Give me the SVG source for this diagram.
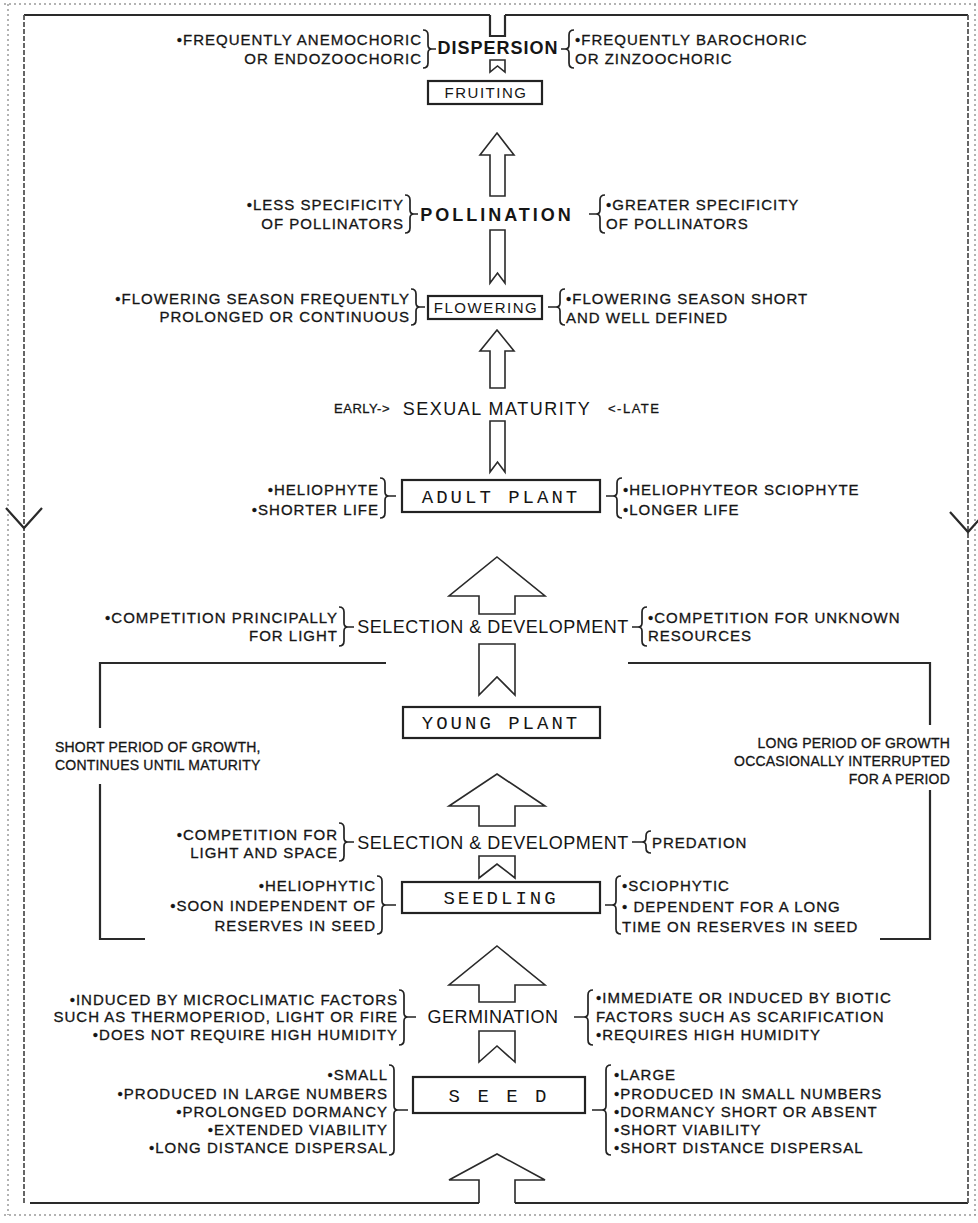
<svg xmlns="http://www.w3.org/2000/svg" width="978" height="1223" viewBox="0 0 978 1223">
<style>
.bg{fill:#ffffff}
.frame{fill:none;stroke:#9a9a9a;stroke-width:1.5;stroke-dasharray:2 3}
.loop{fill:none;stroke:#2a2a2a;stroke-width:2.2}
.side{fill:none;stroke:#555;stroke-width:1.8;stroke-dasharray:5 2}
.arr{fill:#ffffff;stroke:#2a2a2a;stroke-width:1.6;stroke-linejoin:miter}
.br{fill:none;stroke:#222;stroke-width:1.7}
.box{fill:#ffffff;stroke:#222;stroke-width:2.2}
.t{font-family:"Liberation Sans",Arial,sans-serif;font-size:15px;letter-spacing:1px;fill:#151515;stroke:#151515;stroke-width:0.3}
.g{font-size:14px;letter-spacing:0.2px}
.te{text-anchor:end}
.lb{font-family:"Liberation Sans",Arial,sans-serif;font-size:18px;letter-spacing:0.5px;fill:#151515;text-anchor:middle}
.bold{font-weight:bold}
.sm{font-family:"Liberation Sans",Arial,sans-serif;font-size:13px;letter-spacing:0.5px;fill:#151515;stroke:#151515;stroke-width:0.3}
.ns{font-family:"Liberation Sans",Arial,sans-serif;font-size:15px;letter-spacing:1.5px;fill:#151515;text-anchor:middle}
.nm{font-family:"Liberation Mono","DejaVu Sans Mono",monospace;font-size:19px;letter-spacing:3px;fill:#151515;text-anchor:middle}
</style>
<rect class="bg" x="0" y="0" width="978" height="1223"/>
<path class="frame" d="M4,4 H976 M8,4 V1215 M975,4 V1215 M4,1215 H976"/>

<g id="connectors">
  <!-- outer loop -->
  <path class="loop" d="M24,15 H490 M505,15 H968"/>
  <path class="loop" d="M30,1203 H479 M515,1203 H968"/>
  <path class="side" d="M24,15 V1203"/>
  <path class="side" d="M968,15 V1203"/>
  <path class="loop" d="M490,15 V36 H505 V15"/>
  <path class="loop" d="M6,508 L24,528 L42,508"/>
  <path class="loop" d="M950,512 L968,532 L986,512"/>
  <!-- dispersion tail -->
  <polygon class="arr" points="490,60 505,60 505,72 497.5,66 490,72"/>
  <!-- pollination -> fruiting -->
  <polygon class="arr" points="497,133 514,155 505,155 505,196 490,196 490,155 480,155"/>
  <polygon class="arr" points="490,230 505,230 505,283 497.5,273 490,283"/>
  <!-- sexual maturity -> flowering -->
  <polygon class="arr" points="497,330 514,351 505,351 505,388 490,388 490,351 480,351"/>
  <polygon class="arr" points="490,421 505,421 505,472 497.5,462 490,472"/>
  <!-- selection -> adult -->
  <polygon class="arr" points="497,557 545,596 515,596 515,614 479,614 479,596 449,596"/>
  <polygon class="arr" points="479,644 515,644 515,695 497,677 479,695"/>
  <!-- growth frame -->
  <path class="loop" d="M386,663 H100 V728 M100,784 V939 H145"/>
  <path class="loop" d="M628,663 H930 V725 M930,790 V939 H880"/>
  <!-- selection -> young plant -->
  <polygon class="arr" points="497,774 545,806 515,806 515,826 479,826 479,806 449,806"/>
  <polygon class="arr" points="479,856 515,856 515,878 497,864 479,878"/>
  <!-- germination -> seedling -->
  <polygon class="arr" points="497,946 545,985 515,985 515,1002 479,1002 479,985 449,985"/>
  <polygon class="arr" points="479,1031 515,1031 515,1062 497,1046 479,1062"/>
  <!-- loop -> seed -->
  <path class="arr" d="M479,1203 V1180 H449 L497,1154 L545,1180 H515 V1203"/>
</g>

<g id="dispersion">
  <text class="lb bold" x="498" y="54" style="letter-spacing:1px">DISPERSION</text>
  <path class="br" d="M423,30 Q428,30 428,35 V45 Q428,49 432,49 Q428,49 428,53 V63 Q428,68 423,68 M432,49 H436"/>
  <text class="t te" x="422" y="45">•FREQUENTLY ANEMOCHORIC</text>
  <text class="t te" x="422" y="64">OR ENDOZOOCHORIC</text>
  <path class="br" d="M574,30 Q569,30 569,35 V45 Q569,49 565,49 Q569,49 569,53 V63 Q569,68 574,68 M565,49 H561"/>
  <text class="t" x="575" y="45">•FREQUENTLY BAROCHORIC</text>
  <text class="t" x="575" y="64">OR ZINZOOCHORIC</text>
</g>

<g id="fruiting">
  <rect class="box" x="428" y="81" width="114" height="23"/>
  <text class="ns" x="486" y="98">FRUITING</text>
</g>

<g id="pollination">
  <text class="lb bold" x="497" y="221" style="letter-spacing:3px">POLLINATION</text>
  <path class="br" d="M405,195 Q410,195 410,200 V210 Q410,214 414,214 Q410,214 410,218 V228 Q410,233 405,233 M414,214 H418"/>
  <text class="t te" x="404" y="210">•LESS SPECIFICITY</text>
  <text class="t te" x="404" y="229">OF POLLINATORS</text>
  <path class="br" d="M605,195 Q600,195 600,200 V210 Q600,214 596,214 Q600,214 600,218 V228 Q600,233 605,233 M596,214 H589"/>
  <text class="t" x="606" y="210">•GREATER SPECIFICITY</text>
  <text class="t" x="606" y="229">OF POLLINATORS</text>
</g>

<g id="flowering">
  <rect class="box" x="428" y="296" width="114" height="23"/>
  <text class="ns" x="486" y="313">FLOWERING</text>
  <path class="br" d="M411,289 Q416,289 416,294 V303 Q416,307 420,307 Q416,307 416,311 V320 Q416,325 411,325 M420,307 H425"/>
  <text class="t te" x="410" y="304">•FLOWERING SEASON FREQUENTLY</text>
  <text class="t te" x="410" y="322">PROLONGED OR CONTINUOUS</text>
  <path class="br" d="M565,289 Q560,289 560,294 V303 Q560,307 556,307 Q560,307 560,311 V320 Q560,325 565,325 M556,307 H548"/>
  <text class="t" x="566" y="304">•FLOWERING SEASON SHORT</text>
  <text class="t" x="566" y="323">AND WELL DEFINED</text>
</g>

<g id="sexual-maturity">
  <text class="sm" x="390" y="413" text-anchor="end">EARLY-&gt;</text>
  <text class="lb" x="497" y="415" style="letter-spacing:1.5px">SEXUAL MATURITY</text>
  <text class="sm" x="608" y="413" style="letter-spacing:1.5px">&lt;-LATE</text>
</g>

<g id="adult-plant">
  <rect class="box" x="402" y="480" width="198" height="32"/>
  <text class="nm" x="501" y="503">ADULT PLANT</text>
  <path class="br" d="M380,478 Q385,478 385,483 V492 Q385,496 389,496 Q385,496 385,500 V513 Q385,518 380,518 M389,496 H396"/>
  <text class="t te" x="379" y="495">•HELIOPHYTE</text>
  <text class="t te" x="379" y="515">•SHORTER LIFE</text>
  <path class="br" d="M622,478 Q617,478 617,483 V492 Q617,496 613,496 Q617,496 617,500 V513 Q617,518 622,518 M613,496 H606"/>
  <text class="t" x="623" y="495">•HELIOPHYTEOR SCIOPHYTE</text>
  <text class="t" x="623" y="515">•LONGER LIFE</text>
</g>

<g id="selection-1">
  <text class="lb" x="493" y="633">SELECTION &amp; DEVELOPMENT</text>
  <path class="br" d="M339,607 Q344,607 344,612 V623 Q344,627 348,627 Q344,627 344,631 V641 Q344,646 339,646 M348,627 H354"/>
  <text class="t te" x="338" y="623">•COMPETITION PRINCIPALLY</text>
  <text class="t te" x="338" y="641">FOR LIGHT</text>
  <path class="br" d="M647,607 Q642,607 642,612 V623 Q642,627 638,627 Q642,627 642,631 V641 Q642,646 647,646 M638,627 H632"/>
  <text class="t" x="648" y="623">•COMPETITION FOR UNKNOWN</text>
  <text class="t" x="648" y="641">RESOURCES</text>
</g>

<g id="young-plant">
  <rect class="box" x="403" y="707" width="197" height="31"/>
  <text class="nm" x="501" y="729">YOUNG PLANT</text>
  <text class="t g" x="55" y="752">SHORT PERIOD OF GROWTH,</text>
  <text class="t g" x="55" y="770">CONTINUES UNTIL MATURITY</text>
  <text class="t g te" x="950" y="748">LONG PERIOD OF GROWTH</text>
  <text class="t g te" x="950" y="766">OCCASIONALLY INTERRUPTED</text>
  <text class="t g te" x="950" y="784">FOR A PERIOD</text>
</g>

<g id="selection-2">
  <text class="lb" x="493" y="849">SELECTION &amp; DEVELOPMENT</text>
  <path class="br" d="M339,823 Q344,823 344,828 V838 Q344,842 348,842 Q344,842 344,846 V856 Q344,861 339,861 M348,842 H354"/>
  <text class="t te" x="338" y="840">•COMPETITION FOR</text>
  <text class="t te" x="338" y="858">LIGHT AND SPACE</text>
  <path class="br" d="M651,831 Q646,831 646,836 V838 Q646,842 642,842 Q646,842 646,846 V848 Q646,853 651,853 M642,842 H632"/>
  <text class="t" x="652" y="848">PREDATION</text>
</g>

<g id="seedling">
  <rect class="box" x="402" y="882" width="198" height="31"/>
  <text class="nm" x="501" y="904">SEEDLING</text>
  <path class="br" d="M377,876 Q382,876 382,881 V901 Q382,905 386,905 Q382,905 382,909 V929 Q382,934 377,934 M386,905 H396"/>
  <text class="t te" x="376" y="891">•HELIOPHYTIC</text>
  <text class="t te" x="376" y="911">•SOON INDEPENDENT OF</text>
  <text class="t te" x="376" y="931">RESERVES IN SEED</text>
  <path class="br" d="M621,876 Q616,876 616,881 V901 Q616,905 612,905 Q616,905 616,909 V929 Q616,934 621,934 M612,905 H605"/>
  <text class="t" x="622" y="891">•SCIOPHYTIC</text>
  <text class="t" x="622" y="912">• DEPENDENT FOR A LONG</text>
  <text class="t" x="622" y="932">TIME ON RESERVES IN SEED</text>
</g>

<g id="germination">
  <text class="lb" x="493" y="1023">GERMINATION</text>
  <path class="br" d="M399,990 Q404,990 404,995 V1013 Q404,1017 408,1017 Q404,1017 404,1021 V1040 Q404,1045 399,1045 M408,1017 H416"/>
  <text class="t te" x="398" y="1005">•INDUCED BY MICROCLIMATIC FACTORS</text>
  <text class="t te" x="398" y="1022">SUCH AS THERMOPERIOD, LIGHT OR FIRE</text>
  <text class="t te" x="398" y="1040">•DOES NOT REQUIRE  HIGH HUMIDITY</text>
  <path class="br" d="M593,990 Q588,990 588,995 V1013 Q588,1017 584,1017 Q588,1017 588,1021 V1040 Q588,1045 593,1045 M584,1017 H574"/>
  <text class="t" x="596" y="1003">•IMMEDIATE OR INDUCED BY BIOTIC</text>
  <text class="t" x="596" y="1022">FACTORS SUCH AS SCARIFICATION</text>
  <text class="t" x="596" y="1040">•REQUIRES HIGH HUMIDITY</text>
</g>

<g id="seed">
  <rect class="box" x="413" y="1077" width="172" height="36"/>
  <text class="nm" x="499" y="1102">S E E D</text>
  <path class="br" d="M389,1065 Q394,1065 394,1070 V1106 Q394,1110 398,1110 Q394,1110 394,1114 V1150 Q394,1155 389,1155 M398,1110 H408"/>
  <text class="t te" x="388" y="1080">•SMALL</text>
  <text class="t te" x="388" y="1099">•PRODUCED IN LARGE NUMBERS</text>
  <text class="t te" x="388" y="1117">•PROLONGED DORMANCY</text>
  <text class="t te" x="388" y="1135">•EXTENDED VIABILITY</text>
  <text class="t te" x="388" y="1153">•LONG DISTANCE DISPERSAL</text>
  <path class="br" d="M611,1065 Q606,1065 606,1070 V1106 Q606,1110 602,1110 Q606,1110 606,1114 V1150 Q606,1155 611,1155 M602,1110 H592"/>
  <text class="t" x="614" y="1080">•LARGE</text>
  <text class="t" x="614" y="1099">•PRODUCED IN SMALL NUMBERS</text>
  <text class="t" x="614" y="1117">•DORMANCY SHORT OR ABSENT</text>
  <text class="t" x="614" y="1135">•SHORT VIABILITY</text>
  <text class="t" x="614" y="1153">•SHORT DISTANCE DISPERSAL</text>
</g>
</svg>
